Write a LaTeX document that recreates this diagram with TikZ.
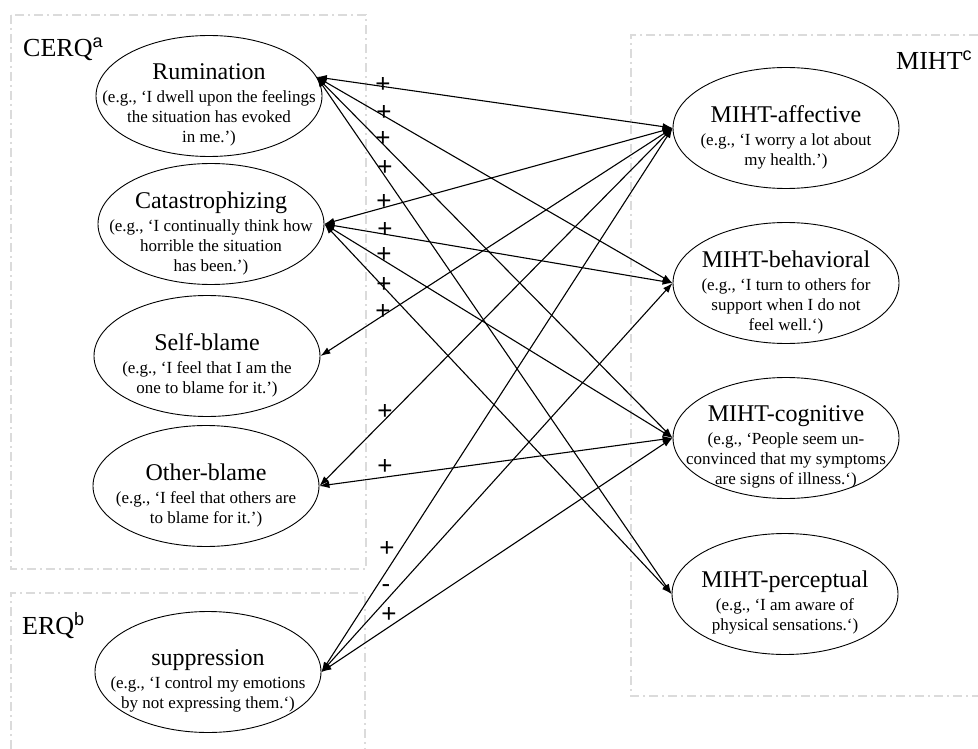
\documentclass[tikz,border=0pt]{standalone}
\usepackage{fontspec}
\setmainfont{Liberation Serif}
\newfontfamily\sansf{Liberation Sans}
\usetikzlibrary{arrows.meta,shapes.geometric}
\newcommand\mytitle[1]{{\fontsize{24}{24}\selectfont #1}\\[3pt]}
\begin{document}
\begin{tikzpicture}[x=1pt,y=-1pt,
  ell/.style={draw,ellipse,minimum width=226pt,minimum height=121pt,inner sep=0pt,line width=0.9pt},
  txt/.style={align=center,font=\fontsize{17}{20}\selectfont,inner sep=0pt,yshift=-9pt},
  grp/.style={draw=black!14,line width=1.5pt,dash pattern=on 9pt off 4pt on 2pt off 4pt},
  conn/.style={{Latex[length=10pt,width=7pt]}-{Latex[length=10pt,width=7pt]},line width=1.1pt},
  sign/.style={font=\sansf\fontsize{26}{26}\selectfont,inner sep=0pt},
  head/.style={font=\fontsize{26}{26}\selectfont,inner sep=0pt,anchor=base west}]
\useasboundingbox (0,0) rectangle (978,749);
% group boxes
\draw[grp] (11,15) rectangle (366,569);
\draw[grp] (11,749) -- (11,593) -- (365,593) -- (365,749);
\draw[grp] (978,35) -- (631,35) -- (631,696) -- (978,696);
% headings
\node[head] (cerq) at (23,57) {CERQ\raisebox{9pt}{\sansf\fontsize{18}{18}\selectfont a}};
\node[head] (erq) at (22,634) {ERQ\raisebox{9pt}{\sansf\fontsize{18}{18}\selectfont b}};
\node[head] (miht) at (896,70) {MIHT\raisebox{9pt}{\sansf\fontsize{18}{18}\selectfont c}};
% left ellipses
\node[ell] (rum) at (209,96) {};
\node[txt] (rumt) at (rum.center) {\mytitle{Rumination}(e.g., ‘I dwell upon the feelings\\the situation has evoked\\in me.’)};
\node[ell] (cat) at (211,224) {};
\node[txt] (catt) at (cat.center) {\mytitle{Catastrophizing}(e.g., ‘I continually think how\\horrible the situation\\has been.’)};
\node[ell] (self) at (207,356) {};
\node[txt] (selft) at (self.center) {\mytitle{Self-blame}(e.g., ‘I feel that I am the\\one to blame for it.’)};
\node[ell] (oth) at (206,486) {};
\node[txt] (otht) at (oth.center) {\mytitle{Other-blame}(e.g., ‘I feel that others are\\to blame for it.’)};
\node[ell] (sup) at (208,672) {};
\node[txt] (supt) at (sup.center) {\mytitle{suppression}(e.g., ‘I control my emotions\\by not expressing them.‘)};
% right ellipses
\node[ell] (aff) at (786,128) {};
\node[txt] (afft) at (aff.center) {\mytitle{MIHT-affective}(e.g., ‘I worry a lot about\\my health.’)};
\node[ell] (beh) at (786,283) {};
\node[txt] (beht) at (beh.center) {\mytitle{MIHT-behavioral}(e.g., ‘I turn to others for\\support when I do not\\feel well.‘)};
\node[ell] (cog) at (786,438) {};
\node[txt] (cogt) at (cog.center) {\mytitle{MIHT-cognitive}(e.g., ‘People seem un-\\convinced that my symptoms\\are signs of illness.‘)};
\node[ell] (perc) at (785,594) {};
\node[txt] (perct) at (perc.center) {\mytitle{MIHT-perceptual}(e.g., ‘I am aware of\\physical sensations.‘)};
% connectors
\draw[conn] (rum.10) -- (aff.west);
\draw[conn] (rum.10) -- (beh.west);
\draw[conn] (rum.10) -- (cog.west);
\draw[conn] (rum.10) -- (perc.west);
\draw[conn] (cat.east) -- (aff.west);
\draw[conn] (cat.east) -- (beh.west);
\draw[conn] (cat.east) -- (cog.west);
\draw[conn] (cat.east) -- (perc.west);
\draw[conn] (self.east) -- (aff.west);
\draw[conn] (oth.east) -- (aff.west);
\draw[conn] (oth.east) -- (cog.west);
\draw[conn] (sup.east) -- (aff.west);
\draw[conn] (sup.east) -- (beh.west);
\draw[conn] (sup.east) -- (cog.west);
% signs
\node[sign] (s1) at (383,85) {+};
\node[sign] (s2) at (384,113) {+};
\node[sign] (s3) at (383,139) {+};
\node[sign] (s4) at (385,168) {+};
\node[sign] (s5) at (384,202) {+};
\node[sign] (s6) at (385,230) {+};
\node[sign] (s7) at (384,255) {+};
\node[sign] (s8) at (384,285) {+};
\node[sign] (s9) at (383,312) {+};
\node[sign] (s10) at (385,412) {+};
\node[sign] (s11) at (385,467) {+};
\node[sign] (s12) at (387,549) {+};
\node[sign] (s13) at (386,589) {-};
\node[sign] (s14) at (389,615) {+};
\end{tikzpicture}
\end{document}
